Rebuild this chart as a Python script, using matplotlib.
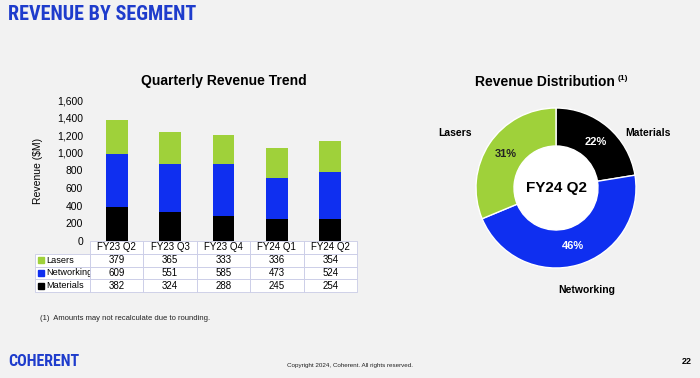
import matplotlib.pyplot as plt
from matplotlib.patches import Rectangle, Circle
from matplotlib import font_manager

quarters = ['FY23 Q2', 'FY23 Q3', 'FY23 Q4', 'FY24 Q1', 'FY24 Q2']
segments = ['Lasers', 'Networking', 'Materials']
lasers = [379, 365, 333, 336, 354]
networking = [609, 551, 585, 473, 524]
materials = [382, 324, 288, 245, 254]
yticks = [0, 200, 400, 600, 800, 1000, 1200, 1400, 1600]

pie_labels = ['Materials', 'Networking', 'Lasers']
pie_values = [254, 524, 354]

BG = '#f2f2f2'
GREEN = '#9fd13a'
BLUE = '#0f2ff0'
BLACK = '#000000'
TITLE_BLUE = '#1e3ccc'
seg_colors = {'Lasers': GREEN, 'Networking': BLUE, 'Materials': BLACK}

plt.rcParams['font.family'] = ['Liberation Sans', 'DejaVu Sans']

# pick a condensed face for the slide header if one is installed
names = {f.name for f in font_manager.fontManager.ttflist}
narrow = None
for cand in ['Liberation Sans Narrow', 'Roboto Condensed', 'DejaVu Sans Condensed',
             'Open Sans Condensed', 'Noto Sans Condensed']:
    if cand in names:
        narrow = cand
        break
if narrow:
    head_font, head_size, logo_size = [narrow, 'DejaVu Sans'], 14.5, 11.5
else:
    head_font, head_size, logo_size = ['Liberation Sans', 'DejaVu Sans'], 12, 9

W, H = 700, 378
fig = plt.figure(figsize=(7, 3.78), dpi=100, facecolor=BG)


def fx(px):
    return px / W


def fy(py):
    return 1 - py / H


# header / footer texts
fig.text(fx(8), fy(15), 'REVENUE BY SEGMENT', fontsize=head_size, fontweight='bold',
         color=TITLE_BLUE, va='center', ha='left', family=head_font)
fig.text(fx(40), fy(318), '(1)  Amounts may not recalculate due to rounding.',
         fontsize=5.5, va='center', color='#222222')
fig.text(fx(8), fy(361), 'COHERENT', fontsize=logo_size, fontweight='bold',
         color=TITLE_BLUE, va='center', ha='left', family=head_font)
fig.text(0.5, fy(365), 'Copyright 2024, Coherent. All rights reserved.',
         fontsize=4.5, ha='center', va='center', color='#222222')
fig.text(fx(692), fy(362), '22', fontsize=6.5, fontweight='bold',
         ha='right', va='center')

# ---------------- stacked bars ----------------
ax_l, ax_r, ax_t, ax_b = 90, 357, 100, 241
ax = fig.add_axes([fx(ax_l), fy(ax_b), fx(ax_r - ax_l), (ax_b - ax_t) / H])
ax.set_facecolor(BG)
x = range(len(quarters))
bw = 0.41
ax.bar(x, materials, bw, color=seg_colors['Materials'])
ax.bar(x, networking, bw, bottom=materials, color=seg_colors['Networking'])
bott = [m + n for m, n in zip(materials, networking)]
ax.bar(x, lasers, bw, bottom=bott, color=seg_colors['Lasers'])
ax.set_xlim(-0.5, len(quarters) - 0.5)
ax.set_ylim(0, 1600)
ax.set_yticks(yticks)
ax.set_yticklabels([f'{v:,}' for v in yticks], fontsize=7.5)
ax.set_xticks([])
ax.tick_params(axis='y', length=0, pad=5)
for s in ax.spines.values():
    s.set_visible(False)
ax.set_ylabel('Revenue ($M)', fontsize=7.5)
ax.yaxis.set_label_coords(-(90 - 43) / (ax_r - ax_l), 0.5)
ax.set_title('Quarterly Revenue Trend', fontsize=10, fontweight='bold', pad=11)

# data table
data = {'Lasers': lasers, 'Networking': networking, 'Materials': materials}
rows = [[s] + [str(v) for v in data[s]] for s in segments]
tbl_left, tbl_bottom = 35, 292
axw, axh = ax_r - ax_l, ax_b - ax_t
bbox = [-(ax_l - tbl_left) / axw, -(tbl_bottom - ax_b) / axh,
        (ax_r - tbl_left) / axw, (tbl_bottom - ax_b) / axh]
label_w = ax_l - tbl_left
col_w = axw / len(quarters)
tbl = ax.table(cellText=rows, colLabels=[''] + quarters, cellLoc='center',
               colWidths=[label_w] + [col_w] * len(quarters), bbox=bbox)
tbl.auto_set_font_size(False)
tbl.set_fontsize(7)
for (r, c), cell in tbl.get_celld().items():
    cell.set_edgecolor('#c9cbe6')
    cell.set_linewidth(0.6)
    cell.set_facecolor('white')
    if r == 0 and c == 0:
        cell.set_visible(False)
    if c == 0 and r > 0:
        cell._loc = 'left'
        cell.get_text().set_horizontalalignment('left')
        cell.get_text().set_fontsize(6.6)
        cell.PAD = 0.2
row_h = bbox[3] / (len(segments) + 1)
for i, s in enumerate(segments):
    yc = bbox[1] + bbox[3] - row_h * (i + 1.5)
    sq = 6 / axh
    ax.add_patch(Rectangle((-(ax_l - 38) / axw, yc - sq / 2), 6 / axw, sq,
                           color=seg_colors[s], transform=ax.transAxes,
                           clip_on=False))

# ---------------- donut ----------------
cx, cy, size = 556, 188, 200
ax2 = fig.add_axes([fx(cx - size / 2), fy(cy + size / 2), size / W, size / H])
ax2.set_facecolor(BG)
inner = 0.525
wedges, _, autotexts = ax2.pie(
    pie_values, colors=[seg_colors[s] for s in pie_labels], startangle=90,
    counterclock=False, radius=1, autopct='%1.0f%%', pctdistance=0.76,
    wedgeprops=dict(width=1 - inner, edgecolor='white', linewidth=1),
    textprops=dict(fontsize=8, fontweight='bold'))
for t, s in zip(autotexts, pie_labels):
    t.set_color('#222222' if s == 'Lasers' else 'white')
ax2.add_patch(Circle((0, 0), inner, facecolor='white', edgecolor='none'))
ax2.text(0, 0, 'FY24 Q2', fontsize=11, fontweight='bold', ha='center',
         va='center')
ax2.set_xlim(-1.25, 1.25)
ax2.set_ylim(-1.25, 1.25)

fig.text(fx(545), fy(82), 'Revenue Distribution', fontsize=10,
         fontweight='bold', ha='center', va='center')
fig.text(fx(618), fy(78), '(1)', fontsize=6, fontweight='bold',
         ha='left', va='center')
fig.text(fx(455), fy(133), 'Lasers', fontsize=7.5, fontweight='bold',
         ha='center', va='center')
fig.text(fx(648), fy(133), 'Materials', fontsize=7.5, fontweight='bold',
         ha='center', va='center')
fig.text(fx(587), fy(290), 'Networking', fontsize=7.5, fontweight='bold',
         ha='center', va='center')

fig.savefig('out.png', dpi=100, facecolor=BG)
